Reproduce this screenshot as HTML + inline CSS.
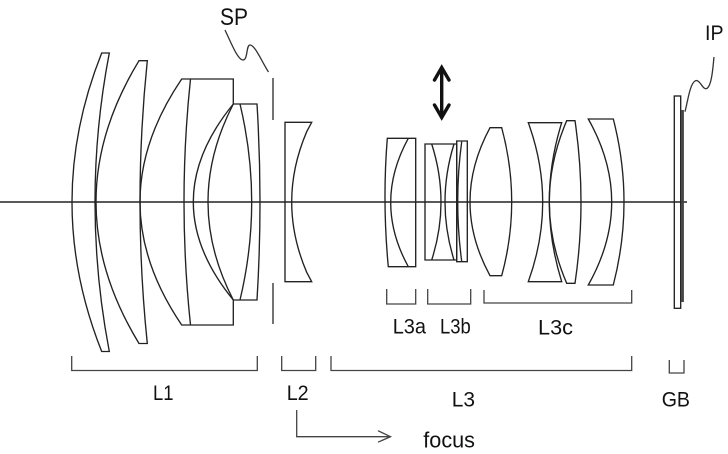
<!DOCTYPE html>
<html>
<head>
<meta charset="utf-8">
<style>
html,body{margin:0;padding:0;background:#fff;}
svg{display:block;}
text{font-family:"Liberation Sans",sans-serif;fill:#111;}
</style>
</head>
<body>
<svg width="728" height="454" viewBox="0 0 728 454" xmlns="http://www.w3.org/2000/svg">
<rect width="728" height="454" fill="#fff"/>
<g fill="none" stroke="#222" stroke-width="1.35" stroke-linejoin="miter">
<!-- optical axis -->
<line x1="0" y1="202" x2="687" y2="202" stroke-width="1.4"/>

<!-- L1 lens 1 -->
<path d="M101.7,53 L109.3,53 Q80.7,202 109.3,351.5 L101.7,351.5 Q42.3,202 101.7,53 Z"/>
<!-- L1 lens 2 -->
<path d="M139,60.7 L147.3,60.7 Q132.7,202 147.3,343.5 L139,343.5 Q53,202 139,60.7 Z"/>
<!-- L1 lens 3 group -->
<path d="M181.7,79 L233.3,79 L233.3,104 L257,104 Q263,202 257,300 L233.3,300 L233.3,325 L181.7,325 Q98.3,202 181.7,79 Z"/>
<path d="M190.5,79 Q177.5,202 190.5,325"/>
<path d="M233.3,104 Q153.3,202 233.3,300"/>
<path d="M233.3,104 Q182.7,202 233.3,300"/>
<path d="M240,104 Q263.4,202 240,300"/>

<!-- L2 -->
<path d="M285,122.3 L311.7,122.3 L306.7,131.7 Q276.7,202 306.7,272.3 L311.7,281.7 L285,281.7 Z"/>

<!-- L3a -->
<path d="M387.3,138.3 L415.7,138.3 L415.7,266.7 L388.3,266.7 Q382.2,202 387.3,138.3 Z"/>
<path d="M408.3,138.3 Q373.1,202.5 408.3,266.7"/>

<!-- L3b -->
<path d="M425,144 L456.7,144 L456.7,260 L425,260 Z"/>
<path d="M431.7,144 Q450.3,202 431.7,260"/>
<path d="M454,144 Q436,202 454,260"/>
<path d="M456.7,141 L467.3,141 L467.3,261.7 L456.7,261.7 Z"/>
<path d="M461.7,141.7 Q453.7,201.5 461.7,261.3"/>

<!-- L3c lens 1 -->
<path d="M490,127.7 L501.7,127.7 Q521.7,202 501.7,275.7 L490,275.7 Q450,202 490,127.7 Z"/>
<!-- L3c lens 2 -->
<path d="M528.3,122.7 L561.7,122.7 Q536.9,202 561.7,281.7 L528.3,281.7 Q557.1,202 528.3,122.7 Z"/>
<!-- L3c lens 3 -->
<path d="M566.7,120.7 L575,120.7 Q587,202 575,283.3 L566.7,283.3 Q531.9,202 566.7,120.7 Z"/>
<!-- L3c lens 4 -->
<path d="M588.3,119 L613.3,119 Q634.7,202 613.3,285 L588.3,285 Q635.1,202 588.3,119 Z"/>

<!-- GB plate -->
<rect x="674.3" y="96" width="6.4" height="212.3"/>
</g>

<!-- image plane -->
<line x1="682.6" y1="110" x2="682.6" y2="302" stroke="#444" stroke-width="2.6"/>

<!-- stop SP -->
<g stroke="#444" stroke-width="1.5">
<line x1="273" y1="78" x2="273" y2="120"/>
<line x1="273" y1="283" x2="273" y2="324"/>
</g>

<!-- leaders -->
<g fill="none" stroke="#333" stroke-width="1.3">
<path d="M225,30 C232,45 238,60 243,60 C248,60 246,45 250,45 C255,45 262,62 268.5,72"/>
<path d="M685,111.7 C688,100 690,84 695,81 C700,78 703,92 707.5,88 C712,84 713,66 714,57"/>
</g>

<!-- focus double arrow -->
<g fill="none" stroke="#111" stroke-width="3.4" stroke-linecap="round" stroke-linejoin="miter">
<line x1="441.7" y1="69" x2="441.7" y2="116"/>
<polyline points="434.5,80 441.7,67.5 449,80"/>
<polyline points="434.5,105 441.7,117.5 449,105"/>
</g>

<!-- brackets -->
<g fill="none" stroke="#444" stroke-width="1.3">
<polyline points="71.7,356 71.7,370.5 257.3,370.5 257.3,356"/>
<polyline points="281.7,356 281.7,370.5 315.7,370.5 315.7,356"/>
<polyline points="331,356 331,370.5 631.7,370.5 631.7,356"/>
<polyline points="669.3,360 669.3,373 684,373 684,360"/>
<polyline points="386.7,289 386.7,304 415.7,304 415.7,289"/>
<polyline points="427.7,289 427.7,304 470.7,304 470.7,289"/>
<polyline points="484,290 484,303 631.7,303 631.7,290"/>
<!-- focus arrow -->
<polyline points="296.7,410 296.7,436.7 390,436.7"/>
<polyline points="378,430.7 390.5,436.7 378,442.2"/>
</g>

<!-- labels -->
<text x="220" y="25" font-size="24" textLength="28" lengthAdjust="spacingAndGlyphs">SP</text>
<text x="705" y="40" font-size="21" textLength="18.5" lengthAdjust="spacingAndGlyphs">IP</text>
<text x="153" y="400" font-size="21.5" textLength="20.5" lengthAdjust="spacingAndGlyphs">L1</text>
<text x="286.7" y="400" font-size="21.5" textLength="22" lengthAdjust="spacingAndGlyphs">L2</text>
<text x="451.7" y="406.5" font-size="21.5" textLength="23.3" lengthAdjust="spacingAndGlyphs">L3</text>
<text x="661.7" y="406.5" font-size="21.5" textLength="28.3" lengthAdjust="spacingAndGlyphs">GB</text>
<text x="392.7" y="333.5" font-size="21.5" textLength="33.3" lengthAdjust="spacingAndGlyphs">L3a</text>
<text x="440" y="333.5" font-size="21.5" textLength="30.7" lengthAdjust="spacingAndGlyphs">L3b</text>
<text x="538" y="334.5" font-size="21.5" textLength="35" lengthAdjust="spacingAndGlyphs">L3c</text>
<text x="423.3" y="447.5" font-size="22" textLength="51.7" lengthAdjust="spacingAndGlyphs">focus</text>
</svg>
</body>
</html>
